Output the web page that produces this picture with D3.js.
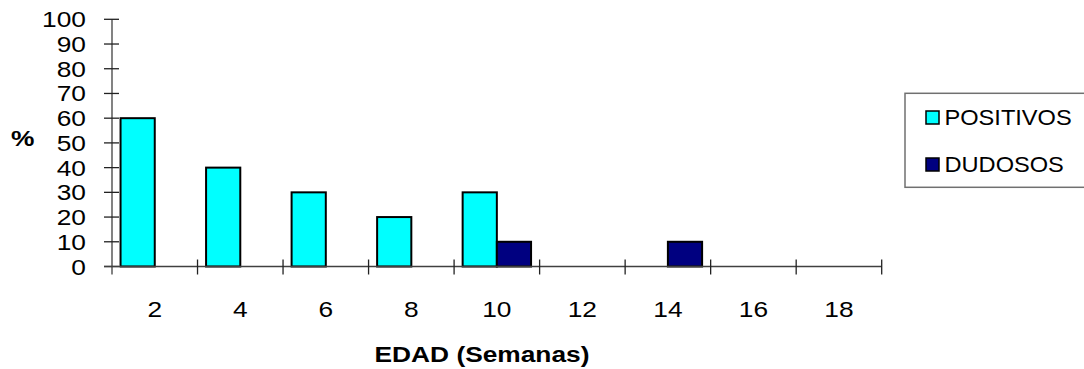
<!DOCTYPE html>
<html>
<head>
<meta charset="utf-8">
<script src="https://cdn.jsdelivr.net/npm/d3@7"></script>
<style>
  html, body { margin: 0; padding: 0; background: #fff; }
  svg { display: block; font-family: Arial, "Liberation Sans", sans-serif; }
</style>
</head>
<body>
<svg id="chart" width="1084" height="369"></svg>
<script>
// Age in weeks (category labels along the x axis)
const ages = ["2", "4", "6", "8", "10", "12", "14", "16", "18"];
// Percentage of positive results per age
const positivos = [60, 40, 30, 20, 30, 0, 0, 0, 0];
// Percentage of doubtful results per age
const dudosos = [0, 0, 0, 0, 10, 0, 10, 0, 0];
// Y axis tick values
const yTicks = [0, 10, 20, 30, 40, 50, 60, 70, 80, 90, 100];
const seriesNames = ["POSITIVOS", "DUDOSOS"];
const seriesColors = ["#00FFFF", "#000080"];

const svg = d3.select("#chart");
const plot = { left: 112, right: 881.7, top: 19.3, bottom: 266.5 };

const x = d3.scaleBand().domain(ages).range([plot.left, plot.right]).padding(0);
const bw = x.bandwidth();
const xSub = d3.scaleBand().domain(seriesNames).range([0.1 * bw, 0.9 * bw]).padding(0);
const y = d3.scaleLinear().domain([0, 100]).range([plot.bottom, plot.top]);
const color = d3.scaleOrdinal().domain(seriesNames).range(seriesColors);

const rows = ages.map((a, i) => ({ age: a, POSITIVOS: positivos[i], DUDOSOS: dudosos[i] }));

const axisColor = "#404040";
const fontSize = 22.5;
const axisStretch = 1.17;   // text is drawn slightly wide
const legendStretch = 1.05;

// place a text horizontally stretched around its anchor point
function wideText(sel, px, py, sx) {
  return sel.attr("x", 0).attr("y", 0)
    .attr("transform", (d, i) => `translate(${px(d, i)},${py(d, i)}) scale(${sx},1)`);
}

// Bars
const groups = svg.append("g").selectAll("g")
  .data(rows).join("g")
  .attr("transform", d => `translate(${x(d.age)},0)`);

groups.selectAll("rect")
  .data(d => seriesNames.map(k => ({ key: k, value: d[k] })).filter(e => e.value > 0))
  .join("rect")
  .attr("x", d => xSub(d.key))
  .attr("width", xSub.bandwidth())
  .attr("y", d => y(d.value))
  .attr("height", d => y(0) - y(d.value))
  .attr("fill", d => color(d.key))
  .attr("stroke", "#000")
  .attr("stroke-width", 2);

// Y axis: line, crossing ticks, labels
const yAxis = svg.append("g");
yAxis.append("line")
  .attr("x1", plot.left).attr("x2", plot.left)
  .attr("y1", y(100)).attr("y2", y(0) + 8)
  .attr("stroke", axisColor).attr("stroke-width", 1.3);
yAxis.selectAll("line.tick").data(yTicks).join("line")
  .attr("class", "tick")
  .attr("x1", plot.left - 8).attr("x2", plot.left + 7)
  .attr("y1", d => y(d)).attr("y2", d => y(d))
  .attr("stroke", "#222").attr("stroke-width", 1.3);
wideText(
  yAxis.selectAll("text").data(yTicks).join("text"),
  () => 86, d => y(d) + 8, axisStretch)
  .attr("text-anchor", "end")
  .attr("font-size", fontSize)
  .text(d => d);

// X axis: baseline, boundary ticks, centred labels
const xAxis = svg.append("g");
xAxis.append("line")
  .attr("x1", plot.left - 8).attr("x2", plot.right)
  .attr("y1", y(0)).attr("y2", y(0))
  .attr("stroke", axisColor).attr("stroke-width", 1.3);
const bounds = ages.map(a => x(a)).concat([x.range()[1]]);
xAxis.selectAll("line.tick").data(bounds.slice(1)).join("line")
  .attr("class", "tick")
  .attr("x1", d => d).attr("x2", d => d)
  .attr("y1", y(0) - 7).attr("y2", y(0) + 8)
  .attr("stroke", "#222").attr("stroke-width", 1.3);
wideText(
  xAxis.selectAll("text").data(ages).join("text"),
  d => x(d) + bw / 2, () => 316.5, axisStretch)
  .attr("text-anchor", "middle")
  .attr("font-size", fontSize)
  .text(d => d);

// Axis titles
wideText(svg.append("text"), () => 482, () => 361.5, axisStretch)
  .attr("text-anchor", "middle")
  .attr("font-size", fontSize).attr("font-weight", "bold")
  .text("EDAD (Semanas)");
wideText(svg.append("text"), () => 22.7, () => 145.5, axisStretch)
  .attr("text-anchor", "middle")
  .attr("font-size", fontSize).attr("font-weight", "bold")
  .text("%");

// Legend
const legend = svg.append("g");
legend.append("rect")
  .attr("x", 905).attr("y", 93.3).attr("width", 200).attr("height", 94)
  .attr("fill", "#fff").attr("stroke", "#707070").attr("stroke-width", 1.5);
const items = legend.selectAll("g").data(seriesNames).join("g")
  .attr("transform", (d, i) => `translate(926,${111 + i * 47})`);
items.append("rect")
  .attr("width", 13).attr("height", 13)
  .attr("fill", d => color(d)).attr("stroke", "#000").attr("stroke-width", 1.5);
wideText(items.append("text"), () => 18.5, () => 14.3, legendStretch)
  .attr("font-size", fontSize)
  .text(d => d);
</script>
</body>
</html>
